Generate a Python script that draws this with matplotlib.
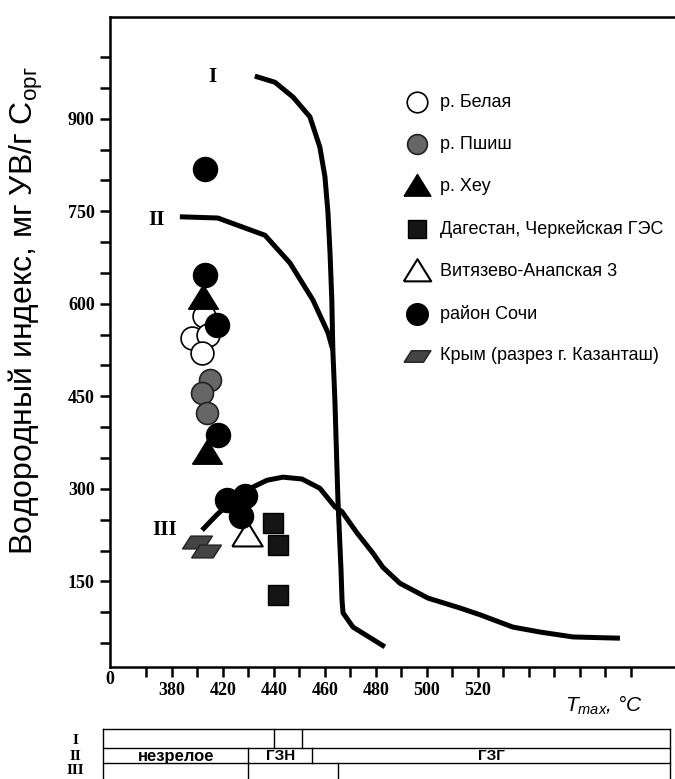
import matplotlib.pyplot as plt
import numpy as np

plt.rcParams['font.family'] = ['Liberation Sans', 'DejaVu Sans']
plt.rcParams['mathtext.fontset'] = 'custom'
plt.rcParams['mathtext.rm'] = 'Liberation Sans'
plt.rcParams['mathtext.it'] = 'Liberation Sans:italic'

# evolution curves of kerogen types (Tmax, HI)
curve_I_x = [432.5, 440.4, 447.5, 454.1, 458.0, 460.0, 461.2, 462.0, 462.7, 463.1,
             463.9, 465.1, 466.3, 466.7, 467.1, 471.0, 483.5]
curve_I_y = [969, 959, 935, 903, 854, 806, 747, 682, 606, 525,
             444, 282, 169, 120, 99, 76, 44]
curve_II_x = [403.1, 418.0, 436.5, 446.3, 455.3, 461.2, 463.1]
curve_II_y = [741, 739, 711, 666, 606, 553, 525]
curve_III_x = [411.8, 417.6, 423.9, 431.8, 437.3, 443.5, 451.0, 458.0, 463.9, 466.7,
               472.5, 478.8, 482.7, 489.4, 500.4, 512.9, 520.8, 533.7, 544.3, 557.3, 575.7]
curve_III_y = [233, 258, 282, 303, 314, 319, 316, 301, 271, 263,
               229, 196, 173, 147, 123, 107, 96, 76, 68, 60, 58]

# samples
belaya_x = [412.5, 407.8, 414.1, 411.8]
belaya_y = [580, 545, 549, 520]
pshish_x = [414.9, 411.8, 413.7]
pshish_y = [476, 455, 423]
heu_x = [412.2, 413.7]
heu_y = [609, 358]
dagestan_x = [439.6, 441.6, 441.6]
dagestan_y = [245, 209, 128]
vityazevo_x = [429.4]
vityazevo_y = [225]
sochi_x = [412.9, 412.9, 417.6, 418.0, 421.6, 428.6, 427.1]
sochi_y = [818, 647, 566, 387, 282, 288, 256]
krym_x = [409.8, 413.3]
krym_y = [214, 199]

xtick_vals = list(range(390, 590, 10))
xlabel_map = {400: '380', 420: '420', 440: '440', 460: '460', 480: '480', 500: '500', 520: '520'}
ytick_vals = list(range(50, 1050, 50))
ylabel_vals = [150, 300, 450, 600, 750, 900]

# maturity zones table (Tmax boundaries per kerogen type)
zones_I = [440, 451]
zones_II = [430, 455]
zones_III = [430, 465]

W, H = 675, 779
def fx(px):
    return px / W
def fy(py):
    return 1 - py / H

fig = plt.figure(figsize=(6.75, 7.79), dpi=100)
ax = fig.add_axes([fx(110), fy(667), fx(675) - fx(110), fy(17) - fy(667)])

lw = 3.6
ax.plot(curve_I_x, curve_I_y, color='black', lw=lw, solid_capstyle='butt', zorder=2)
ax.plot(curve_II_x, curve_II_y, color='black', lw=lw, solid_capstyle='butt', zorder=2)
ax.plot(curve_III_x, curve_III_y, color='black', lw=lw, solid_capstyle='butt', zorder=2)

tri = [(-1, -0.72), (1, -0.72), (0, 0.9), (-1, -0.72)]
sq = [(-1, -1), (1, -1), (1, 1), (-1, 1), (-1, -1)]
para = [(-1, -0.43), (0.45, -0.43), (1, 0.43), (-0.45, 0.43), (-1, -0.43)]

h_bel = ax.scatter(belaya_x, belaya_y, s=270, facecolor='white', edgecolor='black', lw=1.2, zorder=3)
h_psh = ax.scatter(pshish_x, pshish_y, s=250, facecolor='#666666', edgecolor='#222222', lw=1.2, zorder=3)
h_heu = ax.scatter(heu_x, heu_y, s=460, marker=tri, facecolor='black', edgecolor='black', zorder=4)
h_dag = ax.scatter(dagestan_x, dagestan_y, s=210, marker=sq, facecolor='#151515', edgecolor='black', zorder=3)
h_vit = ax.scatter(vityazevo_x, vityazevo_y, s=480, marker=tri, facecolor='white', edgecolor='black', lw=1.5, zorder=3)
h_soc = ax.scatter(sochi_x, sochi_y, s=300, facecolor='black', edgecolor='black', zorder=4)
h_kry = ax.scatter(krym_x, krym_y, s=460, marker=para, facecolor='#444444', edgecolor='#222222', zorder=3)

ax.legend([h_bel, h_psh, h_heu, h_dag, h_vit, h_soc, h_kry],
          ['р. Белая', 'р. Пшиш', 'р. Хеу', 'Дагестан, Черкейская ГЭС',
           'Витязево-Анапская 3', 'район Сочи', 'Крым (разрез г. Казанташ)'],
          loc='upper left', bbox_to_anchor=(fx(403 - 110) / fx(565), 1 - (94 - 17) / 650),
          frameon=False, fontsize=13, labelspacing=1.38, handlelength=1.5,
          handletextpad=0.55, borderpad=0, borderaxespad=0, scatterpoints=1, markerscale=0.9)

ax.text(415.7, 967, 'I', family='Liberation Serif', weight='bold', fontsize=15, ha='center', va='center')
ax.text(394.1, 736, 'II', family='Liberation Serif', weight='bold', fontsize=15, ha='center', va='center')
ax.text(397.3, 233, 'III', family='Liberation Serif', weight='bold', fontsize=15, ha='center', va='center')

ax.set_xlim(375.7, 597.3)
ax.set_ylim(11.3, 1064.8)
ax.set_xticks(xtick_vals)
ax.set_xticklabels([xlabel_map.get(v, '') for v in xtick_vals])
ax.set_yticks(ytick_vals)
ax.set_yticklabels([str(v) if v in ylabel_vals else '' for v in ytick_vals])
ax.tick_params(direction='out', length=7, width=1.8, pad=4)
for lab in ax.get_xticklabels() + ax.get_yticklabels():
    lab.set_fontfamily('Liberation Serif')
    lab.set_fontweight('bold')
    lab.set_fontsize(13)
for side in ['left', 'bottom', 'top']:
    ax.spines[side].set_linewidth(1.8)
ax.spines['right'].set_visible(False)

fig.text(fx(110), fy(680), '0', family='Liberation Serif', weight='bold', fontsize=13, ha='center', va='center')
fig.text(fx(26), fy(311), 'Водородный индекс, мг УВ/г C$_{\\mathrm{орг}}$', rotation=90,
         fontsize=23, ha='center', va='center')
fig.text(fx(604), fy(705), '$T_{max}$, °C', style='italic', fontsize=15, ha='center', va='center')

# maturity table under the axis
tax = fig.add_axes([fx(110), 0, fx(675) - fx(110), fy(729)])
tax.set_xlim(ax.get_xlim())
tax.set_ylim(779, 729)
tax.axis('off')
x0, x1 = 372.9, 595.3
tlw = 1.0
for yy in [729, 748, 763]:
    tax.plot([x0, x1], [yy, yy], color='black', lw=tlw, clip_on=False)
for xx in [x0, x1]:
    tax.plot([xx, xx], [729, 781], color='black', lw=tlw, clip_on=False)
for xx in zones_I:
    tax.plot([xx, xx], [729, 748], color='black', lw=tlw, clip_on=False)
for xx in zones_II:
    tax.plot([xx, xx], [748, 763], color='black', lw=tlw, clip_on=False)
for xx in zones_III:
    tax.plot([xx, xx], [763, 781], color='black', lw=tlw, clip_on=False)
tax.text((x0 + zones_II[0]) / 2, 756, 'незрелое', weight='bold', fontsize=12, ha='center', va='center')
tax.text(sum(zones_II) / 2, 756, 'ГЗН', weight='semibold', fontsize=11, ha='center', va='center')
tax.text((zones_II[1] + x1) / 2, 756, 'ГЗГ', weight='semibold', fontsize=11, ha='center', va='center')

for lab, yy in [('I', 740), ('II', 756), ('III', 771)]:
    fig.text(fx(75), fy(yy), lab, family='Liberation Serif', weight='bold', fontsize=11, ha='center', va='center')

fig.savefig('out.png', dpi=100)
